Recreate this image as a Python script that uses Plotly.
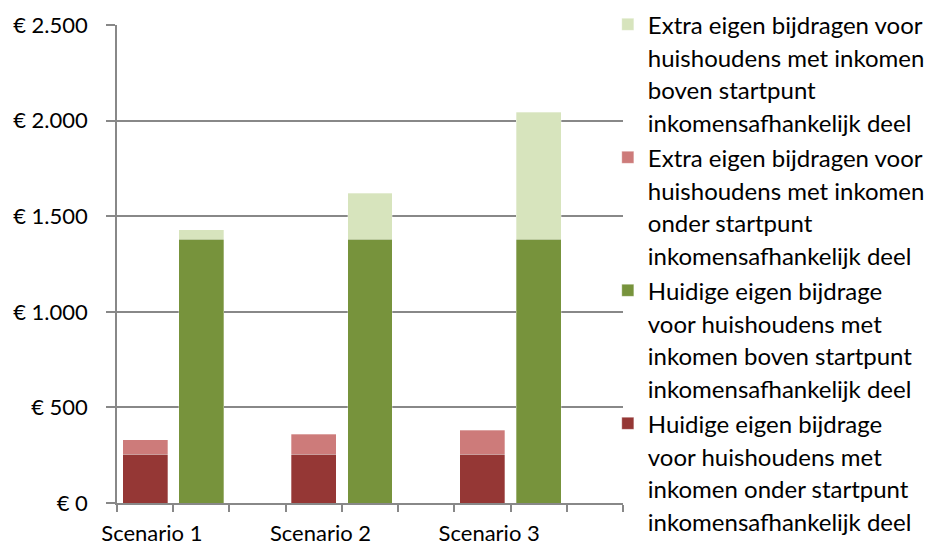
import plotly.graph_objects as go

# Data
scenarios = ["Scenario 1", "Scenario 2", "Scenario 3"]
onder_pos = [0, 3, 6]   # slot of the "onder startpunt" bar in each scenario
boven_pos = [1, 4, 7]   # slot of the "boven startpunt" bar in each scenario

huidig_onder = [255, 255, 255]
extra_onder = [75, 105, 125]
huidig_boven = [1380, 1380, 1380]
extra_boven = [50, 240, 665]

names = [
    "Huidige eigen bijdrage<br>voor huishoudens met<br>inkomen onder startpunt<br>inkomensafhankelijk deel",
    "Huidige eigen bijdrage<br>voor huishoudens met<br>inkomen boven startpunt<br>inkomensafhankelijk deel",
    "Extra eigen bijdragen voor<br>huishoudens met inkomen<br>onder startpunt<br>inkomensafhankelijk deel",
    "Extra eigen bijdragen voor<br>huishoudens met inkomen<br>boven startpunt<br>inkomensafhankelijk deel",
]
colors = ["#953735", "#77933C", "#CD7B7A", "#D7E4BD"]

FONT = "Lato"

fig = go.Figure()
series = [
    (onder_pos, huidig_onder),
    (boven_pos, huidig_boven),
    (onder_pos, extra_onder),
    (boven_pos, extra_boven),
]
for (xs, ys), name, col in zip(series, names, colors):
    fig.add_trace(go.Bar(
        x=xs, y=ys, width=0.8,
        name='<span style="font-size:24px">' + name + "</span>",
        marker=dict(color=col, line=dict(color="rgba(255,255,255,0.6)", width=0.5)),
    ))

fig.update_layout(
    width=933, height=546,
    barmode="stack",
    separators=",.",
    plot_bgcolor="white", paper_bgcolor="white",
    # fixed plot area, the legend must not push the margins
    margin=dict(l=117, r=310, t=25, b=43, autoexpand=False),
    font=dict(family=FONT, size=20, color="black"),
    legend=dict(
        x=0.97, xanchor="left", y=1.049, yanchor="top",
        traceorder="reversed", valign="top",
        font=dict(family=FONT, size=25),
        tracegroupgap=0, itemwidth=30,
        maxheight=546,
        bgcolor="rgba(0,0,0,0)",
    ),
)

fig.update_xaxes(
    range=[-0.5, 8.5],
    automargin=False,
    tickmode="array",
    tickvals=[p + 0.12 for p in onder_pos],
    ticktext=scenarios,
    ticks="", ticklabelstandoff=10,
    showgrid=False,
    showline=True, linecolor="#888888", linewidth=1.5,
    minor=dict(
        tickmode="array",
        tickvals=[i - 0.5 for i in range(10)],
        ticks="outside", ticklen=7, tickcolor="#888888", tickwidth=1.5,
        showgrid=False,
    ),
    tickfont=dict(family=FONT, size=22),
)

fig.update_yaxes(
    range=[0, 2500],
    automargin=False,
    tick0=0, dtick=500,
    tickprefix="€ ", tickformat=",.0f",
    ticks="outside", ticklen=9, tickcolor="#888888", tickwidth=1.5,
    ticklabelstandoff=14,
    showgrid=True, gridcolor="#888888", gridwidth=1.5,
    showline=True, linecolor="#888888", linewidth=1.5,
    zeroline=False,
    tickfont=dict(family=FONT, size=22),
)

# drop the default 8px page margin so the figure fills the window exactly
fig.write_html(
    "out.html",
    config={"displayModeBar": False},
    post_script="document.body.style.margin = '0';",
)
